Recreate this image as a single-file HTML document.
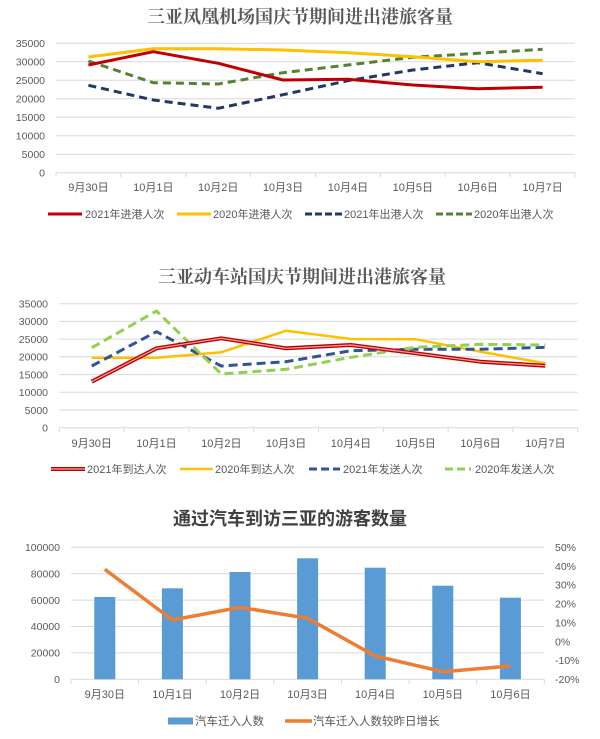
<!DOCTYPE html>
<html><head><meta charset="utf-8"><style>
html,body{margin:0;padding:0;background:#fff;}
svg{display:block;}
text{font-family:"Liberation Sans","Noto Sans CJK SC",sans-serif;fill:#595959;}
.t1{font-family:"Liberation Serif","Noto Serif CJK SC",serif;font-size:18px;font-weight:bold;fill:#595959;}
.t3{font-family:"Liberation Sans","Noto Sans CJK SC",sans-serif;font-size:18px;font-weight:bold;fill:#404040;}
.yl{font-size:10.5px;text-anchor:end;}
.yr{font-size:10.5px;text-anchor:start;}
.xl{font-size:11px;text-anchor:middle;}
.lg{font-size:11px;}
.g{stroke:#d9d9d9;stroke-width:1;}
</style></head><body>
<svg width="600" height="739" viewBox="0 0 600 739" xmlns="http://www.w3.org/2000/svg">
<rect width="600" height="739" fill="#fff"/>

<!-- ===== Chart 1 ===== -->
<text class="t1" x="300" y="23" text-anchor="middle">三亚凤凰机场国庆节期间进出港旅客量</text>
<g class="g">
<line x1="56" y1="43.3" x2="575" y2="43.3"/>
<line x1="56" y1="61.8" x2="575" y2="61.8"/>
<line x1="56" y1="80.3" x2="575" y2="80.3"/>
<line x1="56" y1="98.8" x2="575" y2="98.8"/>
<line x1="56" y1="117.3" x2="575" y2="117.3"/>
<line x1="56" y1="135.8" x2="575" y2="135.8"/>
<line x1="56" y1="154.2" x2="575" y2="154.2"/>
<line x1="56" y1="172.7" x2="575" y2="172.7"/>
<line x1="56" y1="172.7" x2="56" y2="177"/>
<line x1="120.9" y1="172.7" x2="120.9" y2="177"/>
<line x1="185.8" y1="172.7" x2="185.8" y2="177"/>
<line x1="250.6" y1="172.7" x2="250.6" y2="177"/>
<line x1="315.5" y1="172.7" x2="315.5" y2="177"/>
<line x1="380.4" y1="172.7" x2="380.4" y2="177"/>
<line x1="445.3" y1="172.7" x2="445.3" y2="177"/>
<line x1="510.1" y1="172.7" x2="510.1" y2="177"/>
<line x1="575" y1="172.7" x2="575" y2="177"/>
</g>
<text class="yl" x="45" y="47">35000</text>
<text class="yl" x="45" y="65.5">30000</text>
<text class="yl" x="45" y="84">25000</text>
<text class="yl" x="45" y="102.5">20000</text>
<text class="yl" x="45" y="121">15000</text>
<text class="yl" x="45" y="139.5">10000</text>
<text class="yl" x="45" y="158">5000</text>
<text class="yl" x="45" y="176.5">0</text>
<text class="xl" x="88.4" y="191">9月30日</text>
<text class="xl" x="153.3" y="191">10月1日</text>
<text class="xl" x="218.2" y="191">10月2日</text>
<text class="xl" x="283" y="191">10月3日</text>
<text class="xl" x="347.9" y="191">10月4日</text>
<text class="xl" x="412.8" y="191">10月5日</text>
<text class="xl" x="477.7" y="191">10月6日</text>
<text class="xl" x="542.6" y="191">10月7日</text>
<g fill="none" stroke-width="3" stroke-linejoin="round">
<polyline stroke="#1f3864" stroke-dasharray="8 5" points="88.4,85.3 153.3,100 218.2,108.3 283,94.7 347.9,80.7 412.8,70 477.7,62.7 542.6,73.7"/>
<polyline stroke="#548235" stroke-dasharray="8 5" points="88.4,61 153.3,82.7 218.2,84 283,72.7 347.9,65 412.8,57.3 477.7,53.3 542.6,49.3"/>
<polyline stroke="#ffc000" points="88.4,57 153.3,48.7 218.2,48.7 283,50 347.9,52.7 412.8,56.7 477.7,61.7 542.6,60.3"/>
<polyline stroke="#c00000" points="88.4,65 153.3,51.7 218.2,63.3 283,80 347.9,79.3 412.8,85 477.7,88.7 542.6,87.3"/>
</g>
<g stroke-width="3">
<line x1="48" y1="214" x2="82" y2="214" stroke="#c00000"/>
<line x1="177" y1="214" x2="211" y2="214" stroke="#ffc000"/>
<line x1="305" y1="214" x2="342" y2="214" stroke="#1f3864" stroke-dasharray="7 3"/>
<line x1="436" y1="214" x2="472" y2="214" stroke="#548235" stroke-dasharray="7 3"/>
</g>
<text class="lg" x="85" y="218">2021年进港人次</text>
<text class="lg" x="213" y="218">2020年进港人次</text>
<text class="lg" x="344" y="218">2021年出港人次</text>
<text class="lg" x="474" y="218">2020年出港人次</text>

<!-- ===== Chart 2 ===== -->
<text class="t1" x="302" y="283" text-anchor="middle">三亚动车站国庆节期间进出港旅客量</text>
<g class="g">
<line x1="59.3" y1="303.7" x2="577.7" y2="303.7"/>
<line x1="59.3" y1="321.4" x2="577.7" y2="321.4"/>
<line x1="59.3" y1="339.1" x2="577.7" y2="339.1"/>
<line x1="59.3" y1="356.8" x2="577.7" y2="356.8"/>
<line x1="59.3" y1="374.6" x2="577.7" y2="374.6"/>
<line x1="59.3" y1="392.3" x2="577.7" y2="392.3"/>
<line x1="59.3" y1="410" x2="577.7" y2="410"/>
<line x1="59.3" y1="427.7" x2="577.7" y2="427.7"/>
<line x1="59.3" y1="427.7" x2="59.3" y2="432"/>
<line x1="124.1" y1="427.7" x2="124.1" y2="432"/>
<line x1="188.9" y1="427.7" x2="188.9" y2="432"/>
<line x1="253.7" y1="427.7" x2="253.7" y2="432"/>
<line x1="318.5" y1="427.7" x2="318.5" y2="432"/>
<line x1="383.3" y1="427.7" x2="383.3" y2="432"/>
<line x1="448.1" y1="427.7" x2="448.1" y2="432"/>
<line x1="512.9" y1="427.7" x2="512.9" y2="432"/>
<line x1="577.7" y1="427.7" x2="577.7" y2="432"/>
</g>
<text class="yl" x="48" y="307.5">35000</text>
<text class="yl" x="48" y="325.2">30000</text>
<text class="yl" x="48" y="342.9">25000</text>
<text class="yl" x="48" y="360.6">20000</text>
<text class="yl" x="48" y="378.4">15000</text>
<text class="yl" x="48" y="396.1">10000</text>
<text class="yl" x="48" y="413.8">5000</text>
<text class="yl" x="48" y="431.5">0</text>
<text class="xl" x="91.7" y="447">9月30日</text>
<text class="xl" x="156.5" y="447">10月1日</text>
<text class="xl" x="221.3" y="447">10月2日</text>
<text class="xl" x="286.1" y="447">10月3日</text>
<text class="xl" x="350.9" y="447">10月4日</text>
<text class="xl" x="415.7" y="447">10月5日</text>
<text class="xl" x="480.5" y="447">10月6日</text>
<text class="xl" x="545.3" y="447">10月7日</text>
<g fill="none" stroke-linejoin="round">
<polyline stroke="#ffc000" stroke-width="2.5" points="91.7,357.7 156.5,357.7 221.3,352.3 286.1,330.7 350.9,339 415.7,339.3 480.5,351.7 545.3,363.3"/>
<polyline stroke="#2f5597" stroke-width="3" stroke-dasharray="9 5" points="91.7,366 156.5,331.7 221.3,366 286.1,361.7 350.9,350.7 415.7,349.3 480.5,349.3 545.3,347.3"/>
<polyline stroke="#92d050" stroke-width="3" stroke-dasharray="9 5" points="91.7,347.7 156.5,311 221.3,374 286.1,369.3 350.9,357.3 415.7,347.3 480.5,344.3 545.3,345"/>
<polyline stroke="#c00000" stroke-width="4" points="91.7,381.7 156.5,348.3 221.3,338.3 286.1,348.3 350.9,345 415.7,353.3 480.5,361.7 545.3,365.7"/>
<polyline stroke="#f4a6a6" stroke-width="1.2" points="91.7,381.7 156.5,348.3 221.3,338.3 286.1,348.3 350.9,345 415.7,353.3 480.5,361.7 545.3,365.7"/>
</g>
<g>
<line x1="51" y1="469" x2="85" y2="469" stroke="#c00000" stroke-width="4"/>
<line x1="51" y1="469" x2="85" y2="469" stroke="#f4a6a6" stroke-width="1.2"/>
<line x1="180" y1="469" x2="213" y2="469" stroke="#ffc000" stroke-width="2.5"/>
<line x1="309" y1="469" x2="340" y2="469" stroke="#2f5597" stroke-width="3" stroke-dasharray="8 4"/>
<line x1="445" y1="469" x2="471" y2="469" stroke="#92d050" stroke-width="3" stroke-dasharray="8 4"/>
</g>
<text class="lg" x="87" y="473">2021年到达人次</text>
<text class="lg" x="215" y="473">2020年到达人次</text>
<text class="lg" x="343" y="473">2021年发送人次</text>
<text class="lg" x="475" y="473">2020年发送人次</text>

<!-- ===== Chart 3 ===== -->
<text class="t3" x="290" y="525" text-anchor="middle">通过汽车到访三亚的游客数量</text>
<g class="g">
<line x1="71" y1="547.3" x2="544.3" y2="547.3"/>
<line x1="71" y1="573.7" x2="544.3" y2="573.7"/>
<line x1="71" y1="600.1" x2="544.3" y2="600.1"/>
<line x1="71" y1="626.5" x2="544.3" y2="626.5"/>
<line x1="71" y1="652.9" x2="544.3" y2="652.9"/>
<line x1="71" y1="679.3" x2="544.3" y2="679.3"/>
<line x1="71" y1="679.3" x2="71" y2="684"/>
<line x1="138.6" y1="679.3" x2="138.6" y2="684"/>
<line x1="206.2" y1="679.3" x2="206.2" y2="684"/>
<line x1="273.8" y1="679.3" x2="273.8" y2="684"/>
<line x1="341.5" y1="679.3" x2="341.5" y2="684"/>
<line x1="409.1" y1="679.3" x2="409.1" y2="684"/>
<line x1="476.7" y1="679.3" x2="476.7" y2="684"/>
<line x1="544.3" y1="679.3" x2="544.3" y2="684"/>
</g>
<text class="yl" x="60" y="551">100000</text>
<text class="yl" x="60" y="577.4">80000</text>
<text class="yl" x="60" y="603.8">60000</text>
<text class="yl" x="60" y="630.2">40000</text>
<text class="yl" x="60" y="656.6">20000</text>
<text class="yl" x="60" y="683">0</text>
<text class="yr" x="555" y="551">50%</text>
<text class="yr" x="555" y="569.9">40%</text>
<text class="yr" x="555" y="588.7">30%</text>
<text class="yr" x="555" y="607.6">20%</text>
<text class="yr" x="555" y="626.4">10%</text>
<text class="yr" x="555" y="645.3">0%</text>
<text class="yr" x="555" y="664.2">-10%</text>
<text class="yr" x="555" y="683">-20%</text>
<g fill="#5b9bd5">
<rect x="94.3" y="597" width="21" height="82.3"/>
<rect x="161.9" y="588.3" width="21" height="91"/>
<rect x="229.5" y="572" width="21" height="107.3"/>
<rect x="297.1" y="558.3" width="21" height="121"/>
<rect x="364.7" y="567.7" width="21" height="111.6"/>
<rect x="432.3" y="585.7" width="21" height="93.6"/>
<rect x="499.9" y="597.7" width="21" height="81.6"/>
</g>
<polyline fill="none" stroke="#ed7d31" stroke-width="3.5" stroke-linejoin="round" points="104.8,569.3 172.4,620 240,607.3 307.6,618.3 375.2,656 442.8,671.7 510.4,666"/>
<text class="xl" x="104.8" y="698">9月30日</text>
<text class="xl" x="172.4" y="698">10月1日</text>
<text class="xl" x="240" y="698">10月2日</text>
<text class="xl" x="307.6" y="698">10月3日</text>
<text class="xl" x="375.2" y="698">10月4日</text>
<text class="xl" x="442.8" y="698">10月5日</text>
<text class="xl" x="510.4" y="698">10月6日</text>
<rect x="168" y="717.5" width="25" height="7" fill="#5b9bd5"/>
<text class="lg" x="195" y="725" style="font-size:11.5px">汽车迁入人数</text>
<line x1="285" y1="721" x2="312" y2="721" stroke="#ed7d31" stroke-width="3.5"/>
<text class="lg" x="313" y="725" style="font-size:11.5px">汽车迁入人数较昨日增长</text>
</svg>
</body></html>
